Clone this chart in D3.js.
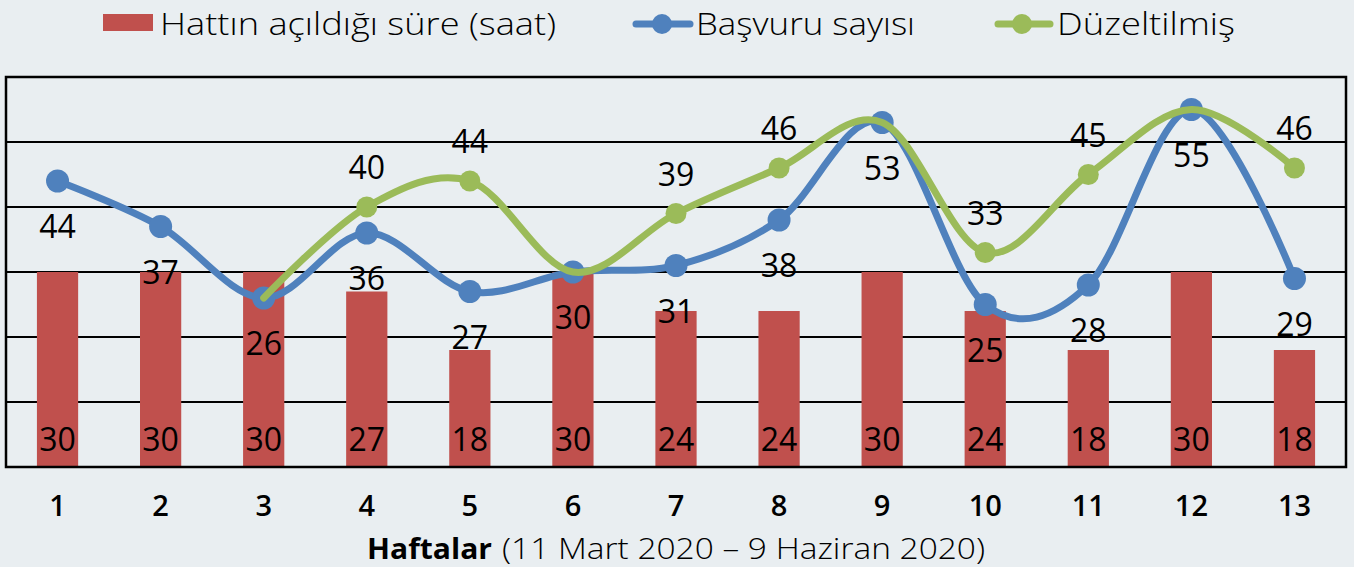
<!DOCTYPE html>
<html><head><meta charset="utf-8">
<script src="https://cdn.jsdelivr.net/npm/d3@7"></script>
<style>
html,body{margin:0;padding:0;background:#e9eef1;}
svg{display:block;font-family:"Open Sans","Noto Sans",sans-serif;}
</style></head>
<body><svg id="chart" width="1354" height="567"></svg>
<script>
const weeks = ["1","2","3","4","5","6","7","8","9","10","11","12","13"];
const hours = [30,30,30,27,18,30,24,24,30,24,18,30,18];
const applications = [44,37,26,36,27,30,31,38,53,25,28,55,29];
const adjusted = [null,null,26,40,44,30,39,46,53,33,45,55,46];
const legendLabels = ["Hattın açıldığı süre (saat)","Başvuru sayısı","Düzeltilmiş"];
const axisTitleBold = "Haftalar";
const axisTitleRest = "(11 Mart 2020 – 9 Haziran 2020)";
const yTicks = [0,10,20,30,40,50,60];

const RED="#c0504d", BLUE="#4f81bd", GREEN="#9bbb59";
const svg = d3.select("#chart");
const L=6, R=1346, T=77, B=467;
const x = d3.scaleBand().domain(weeks).range([L,R]).paddingInner(0.6).paddingOuter(0.3);
const y = d3.scaleLinear().domain([0,60]).range([B,T]);
const cx = w => x(w)+x.bandwidth()/2;

// gridlines
svg.append("g").selectAll("line").data(yTicks.slice(1,-1)).join("line")
  .attr("x1",L).attr("x2",R).attr("y1",d=>y(d)).attr("y2",d=>y(d))
  .attr("stroke","#000").attr("stroke-width",2);

// bars
svg.append("g").selectAll("rect").data(hours).join("rect")
  .attr("x",(d,i)=>x(weeks[i])).attr("width",x.bandwidth())
  .attr("y",d=>y(d)).attr("height",d=>B-y(d)).attr("fill",RED);

// plot border
svg.append("rect").attr("x",L).attr("y",T).attr("width",R-L).attr("height",B-T)
  .attr("fill","none").attr("stroke","#000").attr("stroke-width",2.5);

// x axis tick labels
const xAxis = d3.axisBottom(x).tickSize(0).tickPadding(0);
const gx = svg.append("g").attr("transform",`translate(0,${B})`).call(xAxis);
gx.select(".domain").remove();
gx.selectAll("text").attr("y",49).attr("dy",null)
  .attr("font-size",29).attr("font-weight",600).attr("fill","#000")
  .attr("font-family","'Open Sans',sans-serif");

// lines
const line = d3.line().defined(d=>d.v!=null).x(d=>cx(d.w)).y(d=>y(d.v)).curve(d3.curveCardinal.tension(0));
const blueData = applications.map((v,i)=>({w:weeks[i],v}));
const greenData = adjusted.map((v,i)=>({w:weeks[i],v}));
svg.append("path").datum(blueData).attr("d",line).attr("fill","none")
  .attr("stroke",BLUE).attr("stroke-width",7).attr("stroke-linecap","round");
svg.append("g").selectAll("circle").data(blueData).join("circle")
  .attr("cx",d=>cx(d.w)).attr("cy",d=>y(d.v)).attr("r",11.5).attr("fill",BLUE);
svg.append("path").datum(greenData).attr("d",line).attr("fill","none")
  .attr("stroke",GREEN).attr("stroke-width",7).attr("stroke-linecap","round");
const greenShown = greenData.filter((d,i)=>d.v!=null && d.v!==applications[i]);
svg.append("g").selectAll("circle").data(greenShown).join("circle")
  .attr("cx",d=>cx(d.w)).attr("cy",d=>y(d.v)).attr("r",10.5).attr("fill",GREEN);

// data labels
function styl(sel){return sel.attr("font-size",32).attr("font-weight",500).attr("fill","#000").attr("text-anchor","middle");}
styl(svg.append("g").selectAll("text").data(hours).join("text")
  .attr("x",(d,i)=>cx(weeks[i])).attr("y",B-16).text(d=>d));
styl(svg.append("g").selectAll("text").data(blueData).join("text")
  .attr("x",d=>cx(d.w)).attr("y",d=>y(d.v)+57).text(d=>d.v));
styl(svg.append("g").selectAll("text").data(greenShown).join("text")
  .attr("x",d=>cx(d.w)).attr("y",d=>y(d.v)-28).text(d=>d.v));

// legend
const lg = svg.append("g");
lg.append("rect").attr("x",103).attr("y",14).attr("width",50).attr("height",17).attr("fill",RED);
lg.append("text").attr("x",160).attr("y",35).attr("textLength",396).text(legendLabels[0]);
lg.append("line").attr("x1",636).attr("x2",690).attr("y1",24).attr("y2",24).attr("stroke",BLUE).attr("stroke-width",7).attr("stroke-linecap","round");
lg.append("circle").attr("cx",662).attr("cy",24).attr("r",10).attr("fill",BLUE);
lg.append("text").attr("x",696).attr("y",35).attr("textLength",219).text(legendLabels[1]);
lg.append("line").attr("x1",998).attr("x2",1050).attr("y1",24).attr("y2",24).attr("stroke",GREEN).attr("stroke-width",7).attr("stroke-linecap","round");
lg.append("circle").attr("cx",1022).attr("cy",24).attr("r",10).attr("fill",GREEN);
lg.append("text").attr("x",1057).attr("y",35).attr("textLength",178).text(legendLabels[2]);
lg.selectAll("text").attr("font-size",31).attr("font-weight",300).attr("fill","#000")
  .attr("lengthAdjust","spacingAndGlyphs");

// axis title
svg.append("text").attr("x",367).attr("y",559).attr("textLength",125).attr("lengthAdjust","spacingAndGlyphs")
  .attr("font-size",29).attr("font-weight",700).attr("fill","#000").text(axisTitleBold);
svg.append("text").attr("x",502).attr("y",559).attr("textLength",483).attr("lengthAdjust","spacingAndGlyphs")
  .attr("font-size",29).attr("font-weight",300).attr("fill","#000").text(axisTitleRest);
</script></body></html>
